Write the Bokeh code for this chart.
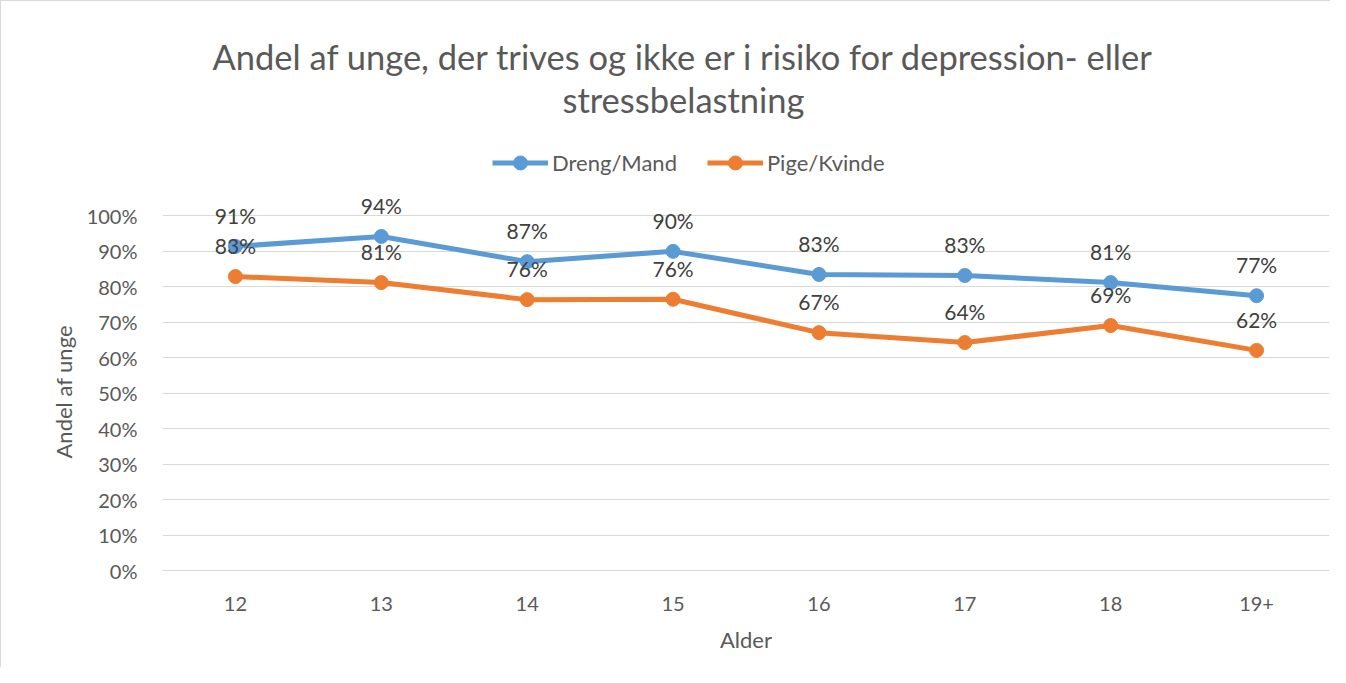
from bokeh.plotting import figure
from bokeh.models import (ColumnDataSource, LabelSet, Label, Legend, LegendItem, Title,
                          NumeralTickFormatter, FixedTicker, FactorRange, Range1d)
from bokeh.core.properties import value
from bokeh.embed import file_html
from bokeh.resources import INLINE

ages = ["12", "13", "14", "15", "16", "17", "18", "19+"]
dreng = [0.913, 0.941, 0.870, 0.899, 0.834, 0.831, 0.811, 0.774]
pige = [0.828, 0.811, 0.763, 0.764, 0.670, 0.642, 0.690, 0.620]
y_ticks = [0.0, 0.1, 0.2, 0.3, 0.4, 0.5, 0.6, 0.7, 0.8, 0.9, 1.0]

title1 = "Andel af unge, der trives og ikke er i risiko for depression- eller"
title2 = "stressbelastning"
y_label = "Andel af unge"
x_label = "Alder"

FONT = "Lato"
BLUE = "#5b9bd5"
ORANGE = "#ed7d31"
GRID = "#d9d9d9"
TXT = "#595959"

src = ColumnDataSource(dict(
    x=ages, dreng=dreng, pige=pige,
    dl=[f"{round(v*100)}%" for v in dreng],
    pl=[f"{round(v*100)}%" for v in pige],
))

# frame spans the whole upper area so title/legend/labels are not clipped;
# 0..1 maps onto the 355px plotting band, the rest above is headroom
p = figure(width=1330, height=667, x_range=FactorRange(*ages), y_range=Range1d(0, 559 / 355),
           output_backend="svg", toolbar_location=None,
           min_border_left=161, min_border_right=2, min_border_top=10, min_border_bottom=98,
           styles={"border-top": "1px solid #d9d9d9", "border-left": "1px solid #d9d9d9"})
p.outline_line_color = None
p.xgrid.grid_line_color = None
p.ygrid.grid_line_color = GRID
p.ygrid.grid_line_width = 1
p.yaxis.ticker = FixedTicker(ticks=y_ticks)
p.yaxis.formatter = NumeralTickFormatter(format="0%")
p.yaxis.axis_line_color = None
p.yaxis.major_tick_line_color = None
p.yaxis.minor_tick_line_color = None
p.yaxis.major_label_standoff = 19
p.xaxis.axis_line_color = GRID
p.xaxis.major_tick_line_color = None
p.xaxis.minor_tick_line_color = None
p.xaxis.major_label_standoff = 20
p.xaxis.axis_label = x_label
p.xaxis.axis_label_standoff = 12
for ax in (p.xaxis[0], p.yaxis[0]):
    ax.major_label_text_font = FONT
    ax.major_label_text_font_size = "20px"
    ax.major_label_text_color = TXT
    ax.axis_label_text_font = FONT
    ax.axis_label_text_font_size = "22px"
    ax.axis_label_text_font_style = "normal"
    ax.axis_label_text_color = TXT

# y-axis title, positioned along the 0..100% band (not the full frame)
p.add_layout(Title(text=y_label, align="left", offset=112, standoff=13,
                   text_font=FONT, text_font_size="22px", text_font_style="normal",
                   text_color=TXT), "left")

l1 = p.line("x", "dreng", source=src, line_color=BLUE, line_width=5)
s1 = p.scatter("x", "dreng", source=src, size=14, fill_color=BLUE, line_color=BLUE)
l2 = p.line("x", "pige", source=src, line_color=ORANGE, line_width=5)
s2 = p.scatter("x", "pige", source=src, size=14, fill_color=ORANGE, line_color=ORANGE)

for col, lab in (("dreng", "dl"), ("pige", "pl")):
    p.add_layout(LabelSet(x="x", y=col, text=lab, source=src, y_offset=31,
                          text_align="center", text_baseline="middle",
                          text_font=value(FONT), text_font_size=value("21px"),
                          text_color="#404040"))

for txt, yy in ((title1, 514), (title2, 471)):
    p.add_layout(Label(x=521, y=yy, x_units="screen", y_units="screen", text=txt,
                       text_align="center", text_baseline="middle",
                       text_font=FONT, text_font_size="34.5px", text_color=TXT))

legend = Legend(items=[LegendItem(label="Dreng/Mand", renderers=[l1, s1]),
                       LegendItem(label="Pige/Kvinde", renderers=[l2, s2])],
                location=(330, 390), orientation="horizontal",
                border_line_alpha=0, background_fill_alpha=0, padding=0, margin=0,
                spacing=30, glyph_width=56, glyph_height=35, label_standoff=4,
                label_text_font=FONT, label_text_font_size="22px", label_text_color=TXT)
p.add_layout(legend)

open("out.html", "w").write(file_html(p, INLINE))
